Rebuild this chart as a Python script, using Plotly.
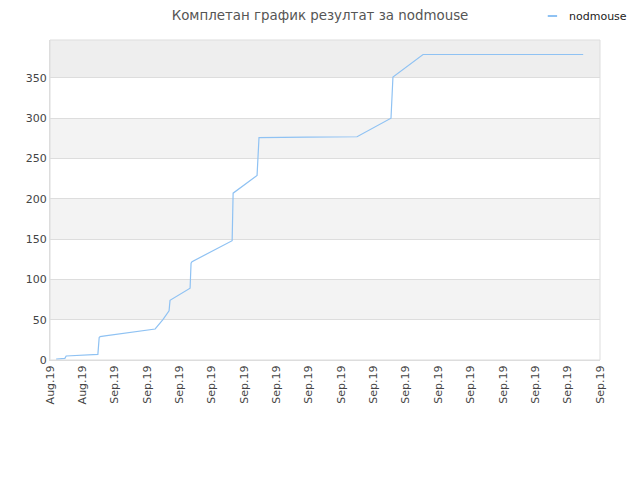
"""
Cumulative result chart for nodmouse, drawn with plotly.graph_objects.
"""

import plotly.graph_objects as go

# tick labels along the bottom axis (one per tick position 0..17)
tick_labels = ['Aug.19', 'Aug.19'] + ['Sep.19'] * 16

# line points: position in tick units and cumulative result
point_pos = [0.19, 0.46, 0.50, 1.24, 1.48, 1.52, 1.55, 1.70, 3.25, 3.49, 3.68, 3.71,
             4.33, 4.36, 4.39, 5.63, 5.66, 6.40, 6.46, 7.94, 9.49, 10.54, 10.60,
             11.53, 16.48]
point_val = [1, 2, 5, 6, 7, 28, 29, 30, 38.5, 50, 61, 74,
             89, 120, 122, 148, 207, 229, 276, 276.5, 277, 300, 351,
             379, 379]

y_ticks = [0, 50, 100, 150, 200, 250, 300, 350]
y_top = 397

title = 'Комплетан график резултат за nodmouse'
series_name = 'nodmouse'
line_colour = '#8fc2f3'

legend_y = 1.075


def band_shapes():
    # alternating horizontal bands, as in the reference
    shapes = []
    edges = y_ticks + [y_top]
    for i in range(len(edges) - 1):
        if i % 2 == 1:
            colour = '#eeeeee' if edges[i + 1] == y_top else '#f3f3f3'
            shapes.append(dict(type='rect', xref='paper', yref='y', x0=0, x1=1,
                               y0=edges[i], y1=edges[i + 1], fillcolor=colour,
                               line=dict(width=0), layer='below'))
    # plot frame
    shapes.append(dict(type='rect', xref='paper', yref='paper', x0=0, x1=1, y0=0, y1=1,
                       line=dict(color='#dddddd', width=1), layer='above'))
    # small legend swatch, top right
    shapes.append(dict(type='line', xref='paper', yref='paper', x0=0.905, x1=0.922,
                       y0=legend_y, y1=legend_y, line=dict(color=line_colour, width=2)))
    return shapes


fig = go.Figure()
fig.add_trace(go.Scatter(x=point_pos, y=point_val, mode='lines', name=series_name,
                         line=dict(color=line_colour, width=1.2), showlegend=False))

# page body has an 8px margin, so the figure margins are pulled in by 8px
fig.update_layout(
    width=640, height=480,
    margin=dict(l=42, r=48, t=32, b=128, autoexpand=False),
    paper_bgcolor='white', plot_bgcolor='white',
    font=dict(family='DejaVu Sans, Verdana, sans-serif', size=11, color='#444444'),
    title=dict(text=title, x=0.5 - 8 / 640, xanchor='center', y=1 - 3 / 480, yanchor='top',
               pad=dict(t=0, b=0), font=dict(size=13.4, color='#555555')),
    showlegend=False,
    shapes=band_shapes(),
    annotations=[dict(text=series_name, xref='paper', yref='paper', x=0.94, y=legend_y,
                      xanchor='left', yanchor='middle', showarrow=False,
                      font=dict(size=11, color='#222222'))],
)

fig.update_xaxes(range=[0, len(tick_labels) - 1], tickvals=list(range(len(tick_labels))),
                 ticktext=tick_labels, tickangle=-90, showgrid=False, zeroline=False,
                 showline=True, linecolor='#dddddd', ticks='', tickfont=dict(size=11))
fig.update_yaxes(range=[0, y_top], tickvals=y_ticks, showgrid=True, gridcolor='#dddddd',
                 zeroline=False, showline=True, linecolor='#dddddd', ticks='',
                 tickfont=dict(size=11))

fig.write_html('out.html')
